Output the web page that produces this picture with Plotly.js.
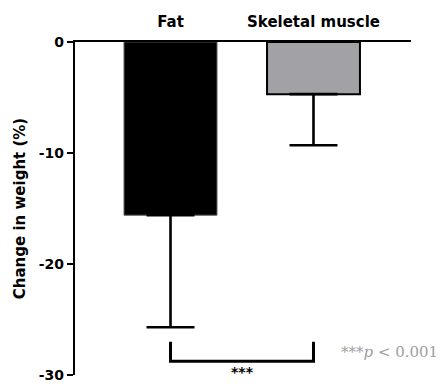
<!DOCTYPE html>
<html>
<head>
<meta charset="utf-8">
<script src="https://cdn.plot.ly/plotly-3.0.1.min.js"></script>
<style>html,body{margin:0;padding:0;background:#fff;}#chart{width:440px;height:384px;}</style>
</head>
<body>
<div id="chart"></div>
<script>
// Tissue weight change (mean with downward SD)
const tissues = ["Fat", "Skeletal muscle"];
const meanChange = [-15.6, -4.7];
const sdDown = [10.1, 4.6];
const sdUp = [0, 0];
const barColors = ["#000000", "#a2a2a6"];
const yTicks = [0, -10, -20, -30];
const sigLabel = "***";
const pNote = "***<i>p</i> < 0.001";

const bold = {family: "DejaVu Sans, Liberation Sans, Arial, sans-serif", color: "#000000", weight: 700};

const trace = {
  type: "bar",
  x: [0, 1],
  y: meanChange,
  width: 0.65,
  marker: {color: barColors, line: {color: ["#555555", "#000000"], width: [1, 2]}},
  error_y: {
    type: "data", symmetric: false,
    array: sdUp, arrayminus: sdDown,
    color: "#000000", thickness: 2.6, width: 24
  },
  hoverinfo: "none"
};

const layout = {
  width: 440, height: 384,
  margin: {l: 75, r: 29, t: 42, b: 9},
  paper_bgcolor: "#ffffff", plot_bgcolor: "#ffffff",
  showlegend: false,
  xaxis: {
    side: "top", range: [-0.668, 1.682],
    tickvals: [0, 1], ticktext: tissues,
    ticks: "", ticklabelstandoff: 7, showgrid: false, zeroline: false,
    showline: true, linecolor: "#000000", linewidth: 2.2,
    tickfont: Object.assign({size: 15}, bold),
    fixedrange: true
  },
  yaxis: {
    range: [-30, 0],
    tickvals: yTicks, ticktext: yTicks.map(String),
    ticks: "outside", ticklen: 6, tickwidth: 2, tickcolor: "#000000",
    showgrid: false, zeroline: false,
    showline: true, linecolor: "#000000", linewidth: 2.2,
    tickfont: Object.assign({size: 14}, bold),
    title: {text: "Change in weight (%)", font: Object.assign({size: 15}, bold), standoff: 10},
    fixedrange: true
  },
  shapes: [{
    type: "path", xref: "x", yref: "y",
    path: "M 0,-27.0 L 0,-28.75 L 1,-28.75 L 1,-27.0",
    line: {color: "#000000", width: 3}
  }],
  annotations: [
    {x: 0.5, y: -28.85, xref: "x", yref: "y", text: sigLabel, showarrow: false,
     yanchor: "top", font: {family: "DejaVu Sans, Arial, sans-serif", size: 14, color: "#000000", weight: 700}},
    {x: 1.18, y: -27.9, xref: "x", yref: "y", text: pNote, showarrow: false,
     xanchor: "left", yanchor: "middle",
     font: {family: "DejaVu Serif, Liberation Serif, serif", size: 15, color: "#a0a0a0"}}
  ]
};

Plotly.newPlot("chart", [trace], layout, {displayModeBar: false, staticPlot: true});
</script>
</body>
</html>
